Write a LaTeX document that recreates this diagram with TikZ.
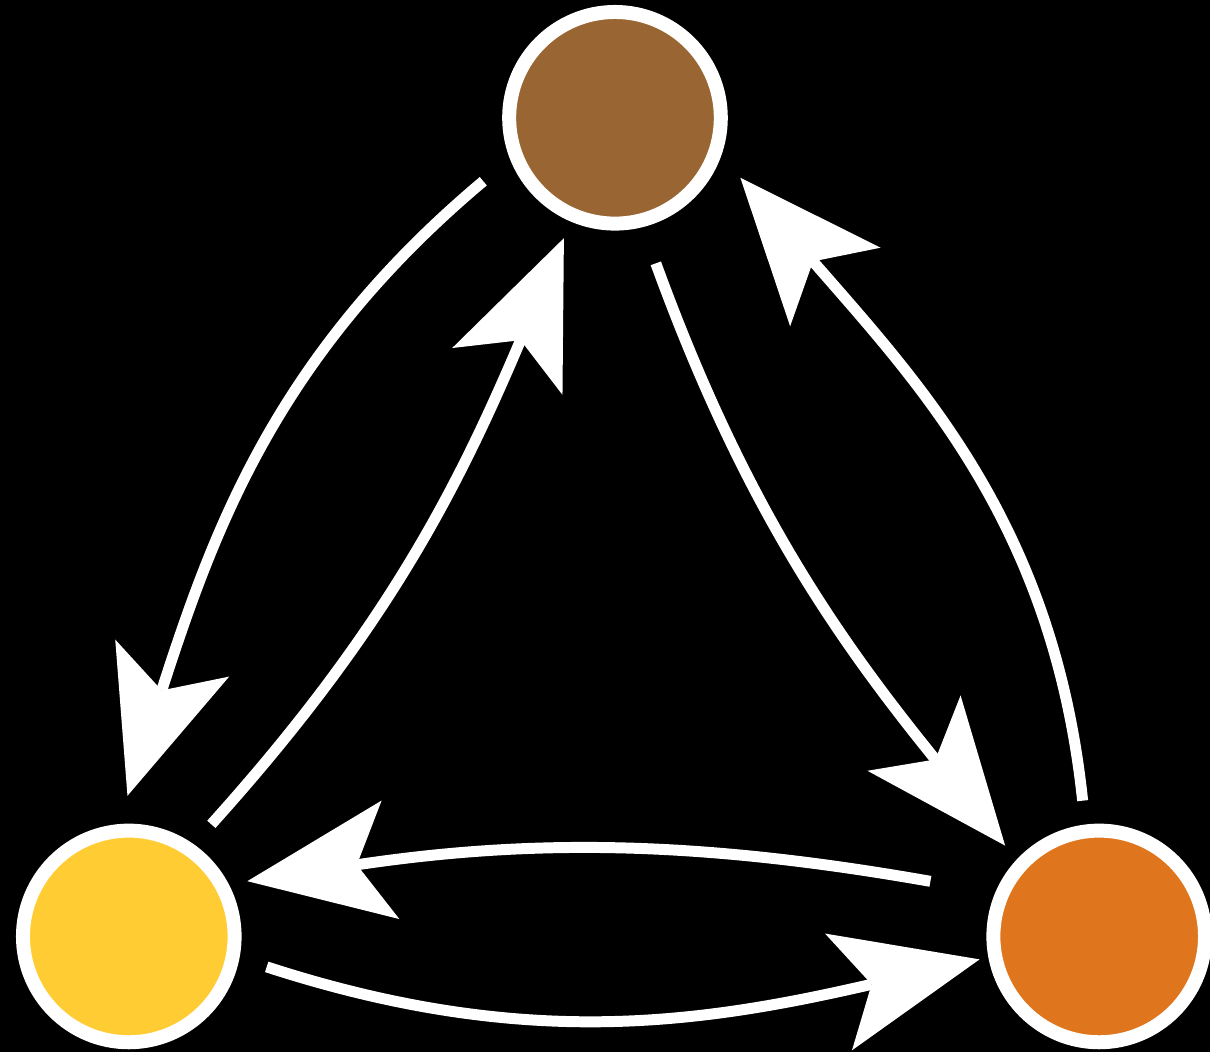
\documentclass[tikz,border=0pt]{standalone}
\usetikzlibrary{arrows.meta}
\begin{document}
\begin{tikzpicture}[
    ball/.style={circle, draw=white, line width=0.28cm, minimum size=4.24cm, inner sep=0pt, outer sep=0.5cm},
    link/.style={draw=white, line width=0.22cm, -{Stealth[length=2.9cm, width=2.4cm, inset=0.68cm, line width=0pt]}}
]
    % Define colours
    \definecolor{fillBrown}{HTML}{996633}
    \definecolor{fillYellow}{HTML}{FFCC33}
    \definecolor{fillOrange}{HTML}{DF761D}

    % Draw background
    \fill[black] (0,0) rectangle (24.24,21.08);

    % Draw circles
    \node[ball, fill=fillBrown] (brown) at (12.32,18.72) {};
    \node[ball, fill=fillYellow] (yellow) at (2.58,2.32) {};
    \node[ball, fill=fillOrange] (orange) at (22.02,2.32) {};

    % Draw arrows
    \draw[link, shorten <=0.32cm, shorten >=0.21cm] (brown.204) to[out=220, in=72] (yellow.92);
    \draw[link, shorten <=0.17cm] (yellow.54) to[out=48, in=247] (brown.247);
    \draw[link, shorten <=0.41cm] (brown.285) to[out=290, in=129] (orange.136);
    \draw[link, shorten <=0.12cm, shorten >=0.18cm] (orange.97) to[out=96, in=311] (brown.336);
    \draw[link, shorten <=0.95cm] (orange.159) to[out=170, in=8.5] (yellow.25);
    \draw[link, shorten <=0.21cm, shorten >=-0.18cm] (yellow.348) to[out=-18, in=193] (orange.191);
\end{tikzpicture}
\end{document}
